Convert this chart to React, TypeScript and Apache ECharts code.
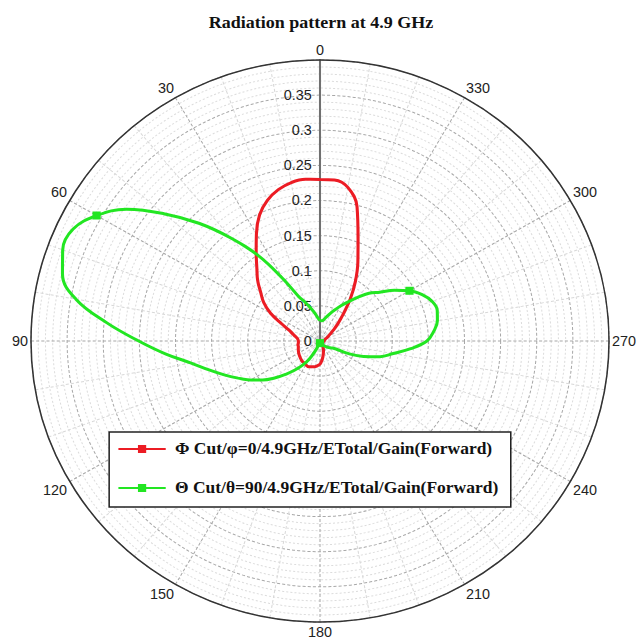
import React, { useEffect, useRef } from "react";
import * as echarts from "echarts";

const TITLE = "Radiation pattern at 4.9 GHz";

const PHI_NAME = "Φ Cut/φ=0/4.9GHz/ETotal/Gain(Forward)";
const THETA_NAME = "Θ Cut/θ=90/4.9GHz/ETotal/Gain(Forward)";

// Angle of each sample, degrees (counter-clockwise from the top)
const ANGLE_DEG = [
  0, 5, 10, 15, 20, 25, 30, 35, 40, 45, 50, 55,
  60, 65, 70, 75, 80, 85, 90, 95, 100, 105, 110, 115,
  120, 125, 130, 135, 140, 145, 150, 155, 160, 165, 170, 175,
  180, 185, 190, 195, 200, 205, 210, 215, 220, 225, 230, 235,
  240, 245, 250, 255, 260, 265, 270, 275, 280, 285, 290, 295,
  300, 305, 310, 315, 320, 325, 330, 335, 340, 345, 350, 355,
];

// Φ cut (φ = 0) gain
const PHI_CUT_GAIN = [
  0.230, 0.231, 0.229, 0.223, 0.213, 0.198, 0.176, 0.154, 0.136, 0.122, 0.107, 0.095,
  0.079, 0.059, 0.046, 0.039, 0.034, 0.031, 0.030, 0.030, 0.031, 0.031, 0.032, 0.033,
  0.034, 0.035, 0.036, 0.037, 0.038, 0.038, 0.039, 0.040, 0.039, 0.038, 0.037, 0.035,
  0.033, 0.028, 0.023, 0.018, 0.014, 0.010, 0.008, 0.006, 0.005, 0.004, 0.004, 0.004,
  0.004, 0.004, 0.004, 0.004, 0.005, 0.005, 0.005, 0.006, 0.006, 0.007, 0.008, 0.010,
  0.013, 0.017, 0.024, 0.035, 0.050, 0.073, 0.098, 0.124, 0.154, 0.198, 0.222, 0.230,
];

// Θ cut (θ = 90) gain
const THETA_CUT_GAIN = [
  0.029, 0.033, 0.040, 0.048, 0.058, 0.070, 0.102, 0.148, 0.191, 0.237, 0.282, 0.327,
  0.357, 0.377, 0.379, 0.369, 0.343, 0.296, 0.251, 0.214, 0.181, 0.159, 0.141, 0.125,
  0.111, 0.097, 0.082, 0.067, 0.054, 0.042, 0.030, 0.016, 0.007, 0.004, 0.003, 0.003,
  0.003, 0.003, 0.004, 0.004, 0.005, 0.005, 0.006, 0.007, 0.009, 0.011, 0.014, 0.017,
  0.020, 0.041, 0.064, 0.086, 0.103, 0.126, 0.148, 0.158, 0.165, 0.168, 0.165, 0.156,
  0.143, 0.126, 0.108, 0.096, 0.081, 0.068, 0.058, 0.049, 0.042, 0.036, 0.031, 0.029,
];

// Angles at which a square marker is drawn on each trace
const PHI_MARKERS: number[] = [];
const THETA_MARKERS = [60, 180, 300];

const RADIUS_MIN = 0;
const RADIUS_MAX = 0.4;
const RADIUS_STEP = 0.05;
const ANGLE_STEP = 30;

const RED = "#ec1c24";
const GREEN = "#22e622";

// The plot frame is slightly wider than tall
const H_STRETCH = 1.0285;
const CENTER_X = 320;

function buildTrace(values: number[], markers: number[]) {
  const pts: any[] = ANGLE_DEG.map((a, i) => ({
    value: [values[i], a],
    symbol: markers.includes(a) ? "rect" : "none",
    symbolSize: 8,
  }));
  // close the loop
  pts.push({ value: [values[0], 360], symbol: "none" });
  return pts;
}

export default function App() {
  const ref = useRef<HTMLDivElement>(null);

  useEffect(() => {
    if (!ref.current) return;
    const chart = echarts.init(ref.current, undefined, { renderer: "svg" });
    const labelFont = "'Liberation Sans', Arial, sans-serif";
    const serif = "'Liberation Serif', 'Times New Roman', serif";

    chart.setOption({
      animation: false,
      backgroundColor: "#ffffff",
      title: {
        text: TITLE,
        left: "center",
        top: 8,
        textStyle: {
          fontFamily: serif,
          fontWeight: "bold",
          fontSize: 17.5,
          color: "#111",
        },
      },
      legend: {
        orient: "vertical",
        left: 115,
        top: 432,
        padding: [7, 12, 9, 8],
        itemGap: 19,
        itemWidth: 46,
        itemHeight: 10,
        backgroundColor: "#ffffff",
        borderColor: "#222",
        borderWidth: 1.5,
        data: [PHI_NAME, THETA_NAME],
        textStyle: {
          fontFamily: serif,
          fontWeight: "bold",
          fontSize: 17,
          color: "#111",
          lineHeight: 20,
          padding: [0, 0, 0, 4],
        },
      },
      polar: {
        center: [CENTER_X, 341],
        radius: 281,
      },
      angleAxis: {
        type: "value",
        min: 0,
        max: 360,
        interval: ANGLE_STEP,
        startAngle: 90,
        clockwise: false,
        axisLine: { show: true, lineStyle: { color: "#333", width: 1.5 } },
        axisTick: { show: false },
        axisLabel: {
          show: true,
          margin: 3,
          color: "#222",
          fontSize: 14,
          fontFamily: labelFont,
          formatter: (v: number) => (v >= 360 ? "" : String(v)),
        },
        splitLine: {
          show: true,
          lineStyle: { color: "#a8a8a8", type: [3, 2], width: 1 },
        },
        minorTick: { show: false, splitNumber: 3 },
        minorSplitLine: {
          show: true,
          lineStyle: { color: "#d8d8d8", type: [3, 2], width: 1 },
        },
      },
      radiusAxis: {
        type: "value",
        min: RADIUS_MIN,
        max: RADIUS_MAX,
        interval: RADIUS_STEP,
        axisLine: { show: true, lineStyle: { color: "#707070", width: 2 } },
        axisTick: { show: false },
        axisLabel: {
          show: true,
          color: "#222",
          fontSize: 14,
          fontFamily: labelFont,
          formatter: (v: number) =>
            Math.abs(v - RADIUS_MAX) < 1e-9 ? "" : String(Math.round(v * 100) / 100),
        },
        splitLine: {
          show: true,
          lineStyle: { color: "#a8a8a8", type: [3, 2], width: 1 },
        },
        minorTick: { show: false, splitNumber: 5 },
        minorSplitLine: {
          show: true,
          lineStyle: { color: "#dcdcdc", type: [2, 2], width: 1 },
        },
      },
      series: [
        {
          name: PHI_NAME,
          type: "line",
          coordinateSystem: "polar",
          smooth: 0.4,
          symbol: "rect",
          symbolSize: 8,
          lineStyle: { color: RED, width: 3 },
          itemStyle: { color: RED },
          data: buildTrace(PHI_CUT_GAIN, PHI_MARKERS),
        },
        {
          name: THETA_NAME,
          type: "line",
          coordinateSystem: "polar",
          smooth: 0.4,
          symbol: "rect",
          symbolSize: 8,
          lineStyle: { color: GREEN, width: 3 },
          itemStyle: { color: GREEN },
          data: buildTrace(THETA_CUT_GAIN, THETA_MARKERS),
        },
      ],
    });

    return () => chart.dispose();
  }, []);

  return (
    <div
      ref={ref}
      style={{
        position: "fixed",
        left: 0,
        top: 0,
        width: 642,
        height: 639,
        transform: `scaleX(${H_STRETCH})`,
        transformOrigin: `${CENTER_X}px 0px`,
      }}
    />
  );
}
